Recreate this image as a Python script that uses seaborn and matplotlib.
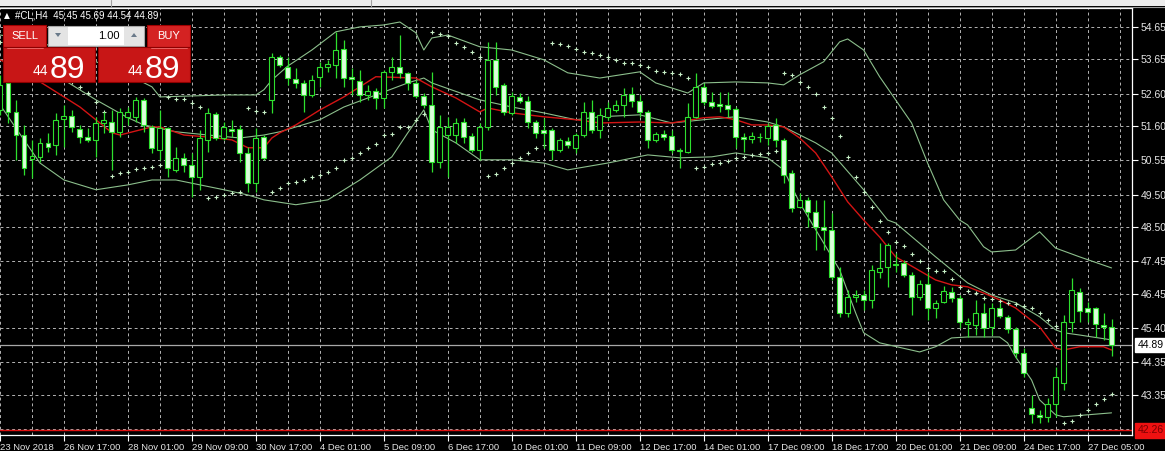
import numpy as np
import pandas as pd
import matplotlib
matplotlib.use("Agg")
import matplotlib.pyplot as plt
from matplotlib.patches import Rectangle, Polygon
import seaborn as sns

# ---------------- data ----------------
opens = [52.10,52.93,52.04,51.33,50.60,50.66,51.09,51.03,51.83,51.92,51.52,51.27,51.18,51.70,51.73,51.43,51.89,51.89,52.41,51.58,
         50.87,51.55,50.26,50.63,50.41,50.05,51.18,51.98,51.24,51.52,51.52,50.78,49.86,51.27,52.41,53.73,53.42,53.05,52.93,52.56,
         53.12,53.42,53.48,53.97,53.12,52.99,52.56,52.69,52.47,53.27,53.42,53.24,52.93,52.53,52.26,50.51,51.33,51.33,51.73,51.30,
         50.87,51.58,53.64,52.87,52.01,52.50,52.38,51.73,51.49,51.49,50.87,51.15,50.94,51.33,52.04,51.49,51.89,52.10,52.26,52.59,
         52.38,52.04,51.18,51.37,51.30,50.87,50.81,51.89,52.81,52.35,52.29,52.26,52.13,51.27,51.21,51.27,51.24,51.64,51.18,50.17,
         49.12,49.34,48.97,48.51,48.42,46.98,45.87,46.36,46.42,46.27,47.13,47.28,47.37,47.41,47.04,46.36,46.76,46.02,46.21,46.51,
         46.33,45.53,45.50,45.87,45.44,46.02,45.75,45.38,44.64,42.95,42.74,42.68,43.08,43.72,45.59,46.51,46.02,46.02,45.50,45.45]
highs = [53.18,53.08,52.41,51.64,51.18,51.24,51.40,52.01,52.26,52.10,51.64,51.55,51.89,52.04,52.10,52.16,52.19,52.50,52.47,51.64,
         52.10,51.58,50.97,50.78,50.78,51.49,52.16,52.04,51.73,51.80,51.64,50.97,51.55,51.33,53.85,53.79,53.73,53.39,53.02,53.18,
         53.58,53.64,54.50,54.25,53.39,53.33,52.87,52.78,53.33,53.73,54.40,53.27,53.02,52.62,53.27,51.95,51.89,51.86,51.86,51.40,
         51.70,54.19,54.19,52.93,52.65,52.62,52.53,51.80,51.86,51.55,51.24,51.27,51.40,52.35,52.41,52.16,52.35,52.41,52.78,52.81,
         52.56,52.10,51.43,51.49,51.49,50.94,52.32,53.24,52.93,52.65,52.65,52.65,52.19,51.40,51.43,51.40,51.70,51.86,51.24,50.26,
         49.55,49.43,49.34,49.34,48.94,47.28,46.58,46.58,46.58,47.34,48.02,48.02,47.71,47.50,47.13,46.88,47.13,46.27,46.70,46.67,
         46.42,45.72,46.27,46.18,46.18,46.18,45.81,45.44,44.80,43.35,42.89,43.26,44.21,45.81,46.94,46.64,46.21,46.05,45.87,45.69]
lows = [51.95,51.70,50.57,50.11,50.01,50.51,50.81,50.72,50.97,51.43,51.09,51.12,50.66,51.40,50.26,51.27,51.64,51.73,51.43,50.78,
        50.57,50.05,50.20,50.20,49.43,49.65,50.81,51.18,51.18,51.27,50.51,49.59,49.59,50.57,52.01,53.42,52.87,52.78,52.04,52.50,
        52.81,53.27,53.08,52.81,52.56,52.35,52.41,52.13,52.16,53.02,53.08,52.72,52.47,52.16,50.20,50.32,50.05,51.09,51.09,50.81,
        50.57,51.49,52.56,51.95,51.95,52.32,51.55,51.24,50.94,50.57,50.81,50.94,50.78,51.27,51.40,51.24,51.80,52.04,51.89,52.19,
        51.89,50.94,51.12,51.18,50.78,50.32,50.78,51.86,52.26,52.16,52.04,51.89,50.94,50.81,51.09,51.12,51.03,50.97,49.86,48.97,
        49.09,48.51,47.80,47.80,46.88,45.75,45.75,46.21,45.96,46.02,46.94,46.67,47.13,46.98,45.81,46.27,45.65,45.72,46.18,46.21,
        45.41,45.13,45.19,45.13,45.19,45.72,45.26,44.49,43.90,42.49,42.49,42.52,42.68,43.51,45.29,45.59,45.59,45.13,45.04,44.54]
closes = [52.87,52.04,51.33,50.32,50.69,51.09,50.97,51.80,51.92,51.58,51.27,51.18,51.70,51.80,51.43,52.04,52.04,52.41,51.64,50.94,
          51.55,50.32,50.63,50.41,50.05,51.24,52.01,51.24,51.58,51.46,50.78,49.86,51.24,50.63,53.73,53.48,53.08,52.93,52.56,53.02,
          53.42,53.51,53.94,53.08,53.05,52.56,52.69,52.47,53.27,53.42,53.24,52.93,52.53,52.26,50.51,51.58,51.58,51.70,51.27,50.87,
          51.58,53.64,52.81,52.04,52.53,52.38,51.73,51.40,51.40,50.87,51.18,51.03,51.33,52.04,51.49,51.95,52.16,52.26,52.56,52.38,
          52.04,51.18,51.37,51.27,50.87,50.84,51.89,52.81,52.35,52.22,52.22,52.13,51.27,51.21,51.30,51.26,51.61,51.18,50.11,49.09,
          49.34,48.97,48.51,48.42,46.98,45.87,46.36,46.42,46.27,47.19,47.25,47.96,47.34,47.04,46.36,46.76,46.02,46.18,46.55,46.33,
          45.59,45.59,45.87,45.41,46.02,45.78,45.38,44.64,44.03,42.77,42.68,43.08,43.90,45.59,46.58,45.93,45.90,45.53,45.44,44.89]
sar = [54.19,54.10,54.00,53.88,53.73,53.58,53.42,53.27,53.12,52.96,52.81,52.62,52.35,52.04,50.08,50.17,50.20,50.29,50.32,50.35,
       50.41,52.50,52.44,52.44,52.32,52.19,49.40,49.43,49.49,49.55,49.59,52.16,52.07,52.04,49.59,49.71,49.86,49.89,49.95,50.05,
       50.11,50.20,50.32,50.57,50.63,50.78,50.94,51.06,51.33,51.37,51.58,51.58,51.80,51.98,54.50,54.44,54.37,54.16,54.04,53.88,
       53.73,50.08,50.14,50.32,50.47,50.63,50.78,50.94,51.03,54.16,54.13,54.07,53.97,53.88,53.85,53.79,53.73,53.64,53.54,53.54,
       53.48,53.42,53.30,53.27,53.24,53.21,53.08,50.32,50.35,50.44,50.47,50.54,50.63,50.66,50.72,50.75,50.78,50.84,53.24,53.18,
       52.96,52.81,52.59,52.19,51.86,51.30,50.66,50.05,49.59,49.12,48.69,48.36,48.05,47.93,47.68,47.47,47.25,47.16,47.16,46.91,
       46.67,46.55,46.48,46.33,46.30,46.24,46.18,46.15,46.08,46.02,45.87,45.65,45.47,42.49,42.55,42.74,42.89,43.08,43.23,43.38]

upper_idx = [0,4,8,12,16,19,20,24,28,32,33,34,36,39,42,45,48,50,52,53,54,56,60,64,68,71,75,80,82,86,88,92,96,98,100,103,105,106,
             108,110,112,114,116,118,120,121,123,124,127,130,132,135,139]
upper_val = [54.40,54.25,53.94,53.58,53.18,52.81,52.50,52.53,52.56,52.56,52.72,53.02,53.45,53.94,54.50,54.65,54.71,54.80,54.47,53.94,
             54.31,54.40,54.04,53.94,53.64,53.24,53.08,53.27,52.93,52.62,52.93,52.96,52.93,52.87,53.18,53.58,54.19,54.28,
             53.94,53.12,52.41,51.70,50.47,49.34,48.72,48.57,47.90,47.74,47.80,48.36,47.86,47.59,47.25]
middle_idx = [0,4,8,12,16,18,22,26,30,33,35,40,43,47,51,53,54,60,64,68,72,75,80,84,88,92,96,98,102,104,108,111,112,117,121,124,
              127,130,132,133,135,139]
middle_val = [53.64,53.39,53.02,52.41,51.86,51.64,51.43,51.33,51.24,51.33,51.43,51.80,52.19,52.56,52.93,53.08,52.93,52.41,52.19,52.01,
              51.80,51.89,51.95,51.70,51.80,51.89,51.73,51.58,51.09,50.78,49.65,48.72,48.63,47.59,46.79,46.42,
              46.18,45.75,45.35,45.26,45.19,45.04]
lower_idx = [0,3,5,8,12,16,19,22,25,28,31,33,37,41,45,49,51,53,54,57,60,64,68,71,76,81,85,89,92,96,98,100,105,107,108,110,115,117,
             119,121,125,126,127,129,130,132,133,139]
lower_val = [52.26,51.18,50.47,49.95,49.65,49.80,49.95,49.95,49.80,49.65,49.49,49.34,49.19,49.34,49.95,50.66,51.40,52.10,51.49,51.09,
             50.57,50.57,50.47,50.26,50.47,50.72,50.63,50.66,50.78,50.63,50.26,49.25,47.19,45.87,45.26,44.95,44.67,44.83,
             45.10,45.13,45.13,44.95,44.52,43.81,43.20,42.74,42.68,42.80]
ma_idx = [0,3,6,10,14,15,19,20,23,26,29,31,33,34,35,37,40,43,47,52,54,57,60,61,64,68,72,75,80,84,88,90,92,94,96,98,100,102,104,
          106,108,110,112,117,119,121,123,125,127,130,132,133,135,138,139]
ma_val = [53.64,53.27,52.81,52.19,51.40,51.33,51.58,51.58,51.33,51.27,51.18,50.94,50.94,51.24,51.40,51.64,52.10,52.50,53.12,53.08,
          52.81,52.47,52.04,52.16,52.01,51.89,51.80,51.70,51.73,51.70,51.86,51.89,51.80,51.64,51.64,51.58,51.24,50.78,50.05,
          49.28,48.72,48.20,47.59,46.88,46.73,46.67,46.48,46.27,46.02,45.44,44.79,44.73,44.83,44.83,44.73]

price_labels = [54.65, 53.65, 52.60, 51.60, 50.55, 49.50, 48.50, 47.45, 46.45, 45.40, 44.35, 43.35]
time_labels = ["23 Nov 2018", "26 Nov 17:00", "28 Nov 01:00", "29 Nov 09:00", "30 Nov 17:00", "4 Dec 01:00",
               "5 Dec 09:00", "6 Dec 17:00", "10 Dec 01:00", "11 Dec 09:00", "12 Dec 17:00", "14 Dec 01:00",
               "17 Dec 09:00", "18 Dec 17:00", "20 Dec 01:00", "21 Dec 09:00", "24 Dec 17:00", "27 Dec 05:00"]
bid_price = 44.89
low_line_price = 42.26
header_text = "#CL,H4  45.45 45.69 44.54 44.89"

# ---------------- style ----------------
sns.set_theme(style="dark", rc={"axes.facecolor": "black", "figure.facecolor": "black"})
plt.rcParams["font.family"] = ["Liberation Sans", "DejaVu Sans"]

W, H = 1165, 451
fig = plt.figure(figsize=(W / 100, H / 100), dpi=100, facecolor="black")
ax = fig.add_axes([0, 16 / H, 1132 / W, 427 / H])
ax.set_facecolor("black")

n = len(closes)
idx = np.arange(n)
ax.set_xlim(0.06, 141.56)
ax.set_ylim(42.12, 55.23)

# grid
grid_kw = dict(color="#b4b4b4", lw=0.7, ls=(0, (3, 3)), zorder=0)
for gx in range(0, 142, 4):
    ax.axvline(gx, **grid_kw)
for gy in price_labels + [42.30]:
    ax.axhline(gy, **grid_kw)

# bid / red price lines
ax.axhline(bid_price, color="#a8a8a8", lw=0.9, zorder=1)
ax.axhline(low_line_price, color="#e01010", lw=1.0, zorder=1)

# indicators with seaborn
band_col = "#8cbf8c"
sns.lineplot(x=upper_idx, y=upper_val, ax=ax, color=band_col, lw=0.8, estimator=None, sort=False, zorder=2)
sns.lineplot(x=middle_idx, y=middle_val, ax=ax, color=band_col, lw=0.8, estimator=None, sort=False, zorder=2)
sns.lineplot(x=lower_idx, y=lower_val, ax=ax, color=band_col, lw=0.8, estimator=None, sort=False, zorder=2)
sns.lineplot(x=ma_idx, y=ma_val, ax=ax, color="#d41414", lw=1.0, estimator=None, sort=False, zorder=2)
sns.scatterplot(x=idx, y=sar, ax=ax, marker="+", s=9, color="#c8f0c8", linewidth=0.8, zorder=3, legend=False)

# candles
green = "#2ee02e"
o = np.array(opens); c = np.array(closes); hi = np.array(highs); lo = np.array(lows)
ax.vlines(idx, lo, hi, color=green, lw=0.9, zorder=4)
bottoms = np.minimum(o, c)
heights = np.maximum(np.abs(c - o), 0.015)
faces = ["black" if cc >= oo else "#dcffdc" for oo, cc in zip(o, c)]
ax.bar(idx, heights, bottom=bottoms, width=0.62, color=faces, edgecolor=green, linewidth=0.8, zorder=5)

# axes cosmetics
ax.yaxis.tick_right()
ax.set_yticks(price_labels)
ax.set_yticklabels([f"{p:.2f}" for p in price_labels])
ax.set_xticks(list(range(0, 8 * len(time_labels), 8)))
ax.set_xticklabels(time_labels)
for lbl in ax.get_xticklabels():
    lbl.set_ha("left")
ax.tick_params(axis="y", colors="white", labelcolor="#e6e6e6", labelsize=7.5, length=4, width=0.8, pad=2, right=True, left=False)
ax.tick_params(axis="x", colors="white", labelcolor="#e6e6e6", labelsize=6.8, length=4, width=0.8, pad=2, bottom=True)
ax.set_xlabel(""); ax.set_ylabel("")
for s in ["top", "right", "bottom"]:
    ax.spines[s].set_visible(True)
    ax.spines[s].set_color("white")
    ax.spines[s].set_linewidth(0.9)
ax.spines["left"].set_visible(False)
ax.grid(False)

# price tags on the right
ax.annotate(f"{bid_price:.2f}", xy=(1.0, bid_price), xycoords=("axes fraction", "data"),
            xytext=(4, 0), textcoords="offset points", va="center", ha="left", fontsize=7.5, color="black",
            bbox=dict(boxstyle="square,pad=0.2", fc="white", ec="white"), annotation_clip=False, zorder=10)
ax.annotate(f"{low_line_price:.2f}", xy=(1.0, low_line_price), xycoords=("axes fraction", "data"),
            xytext=(4, 0), textcoords="offset points", va="center", ha="left", fontsize=7.5, color="#7a0000",
            bbox=dict(boxstyle="square,pad=0.2", fc="#ee1111", ec="#ee1111"), annotation_clip=False, zorder=10)

# ---------------- overlay: toolbar, header, one-click trading panel ----------------
ov = fig.add_axes([0, 0, 1, 1], zorder=20)
ov.set_xlim(0, W); ov.set_ylim(H, 0); ov.axis("off"); ov.patch.set_alpha(0)
ov.add_patch(Rectangle((0, 0), W, 6, fc="#ededed", ec="none"))
ov.plot([0, W], [6.5, 6.5], color="#9a9a9a", lw=0.8)
for sx in [111, 371]:
    ov.plot([sx, sx], [0, 6], color="#a0a0a0", lw=0.8)

ov.text(4, 15.5, "\u25b2", fontsize=5.5, color="white", va="center", ha="left", family=["DejaVu Sans"])
ov.text(15, 15.5, header_text, fontsize=7, color="white", va="center", ha="left")

red_top = "#d42222"
red_box = "#c81616"
ov.add_patch(Rectangle((3, 25), 43, 22, fc=red_top, ec="#a00000", lw=0.8))
ov.add_patch(Rectangle((147, 25), 43, 22, fc=red_top, ec="#a00000", lw=0.8))
ov.text(24.5, 36, "SELL", fontsize=8, color="white", ha="center", va="center")
ov.text(168.5, 36, "BUY", fontsize=8, color="white", ha="center", va="center")
ov.add_patch(Rectangle((48, 26), 96, 20, fc="#e4e4e4", ec="#a8a8a8", lw=0.8))
ov.add_patch(Rectangle((68, 27), 56, 18, fc="white", ec="none"))
ov.text(120, 36, "1.00", fontsize=8, color="black", ha="right", va="center")
ov.add_patch(Polygon([[55, 33], [61, 33], [58, 37]], closed=True, fc="#6a7a8a", ec="none"))
ov.add_patch(Polygon([[131, 37], [137, 37], [134, 33]], closed=True, fc="#6a7a8a", ec="none"))
ov.add_patch(Rectangle((3, 47), 92, 35, fc=red_box, ec="#8c0000", lw=0.8))
ov.add_patch(Rectangle((98, 47), 92, 35, fc=red_box, ec="#8c0000", lw=0.8))
ov.plot([7, 43], [47.5, 47.5], color="#f07070", lw=0.6)
ov.plot([151, 187], [47.5, 47.5], color="#f07070", lw=0.6)
for x0 in (3, 98):
    ov.text(x0 + 45, 75, "44", fontsize=10, color="white", ha="right", va="baseline")
    ov.text(x0 + 47, 78, "89", fontsize=23, color="white", ha="left", va="baseline")

fig.savefig("out.png", dpi=100, facecolor="black")
